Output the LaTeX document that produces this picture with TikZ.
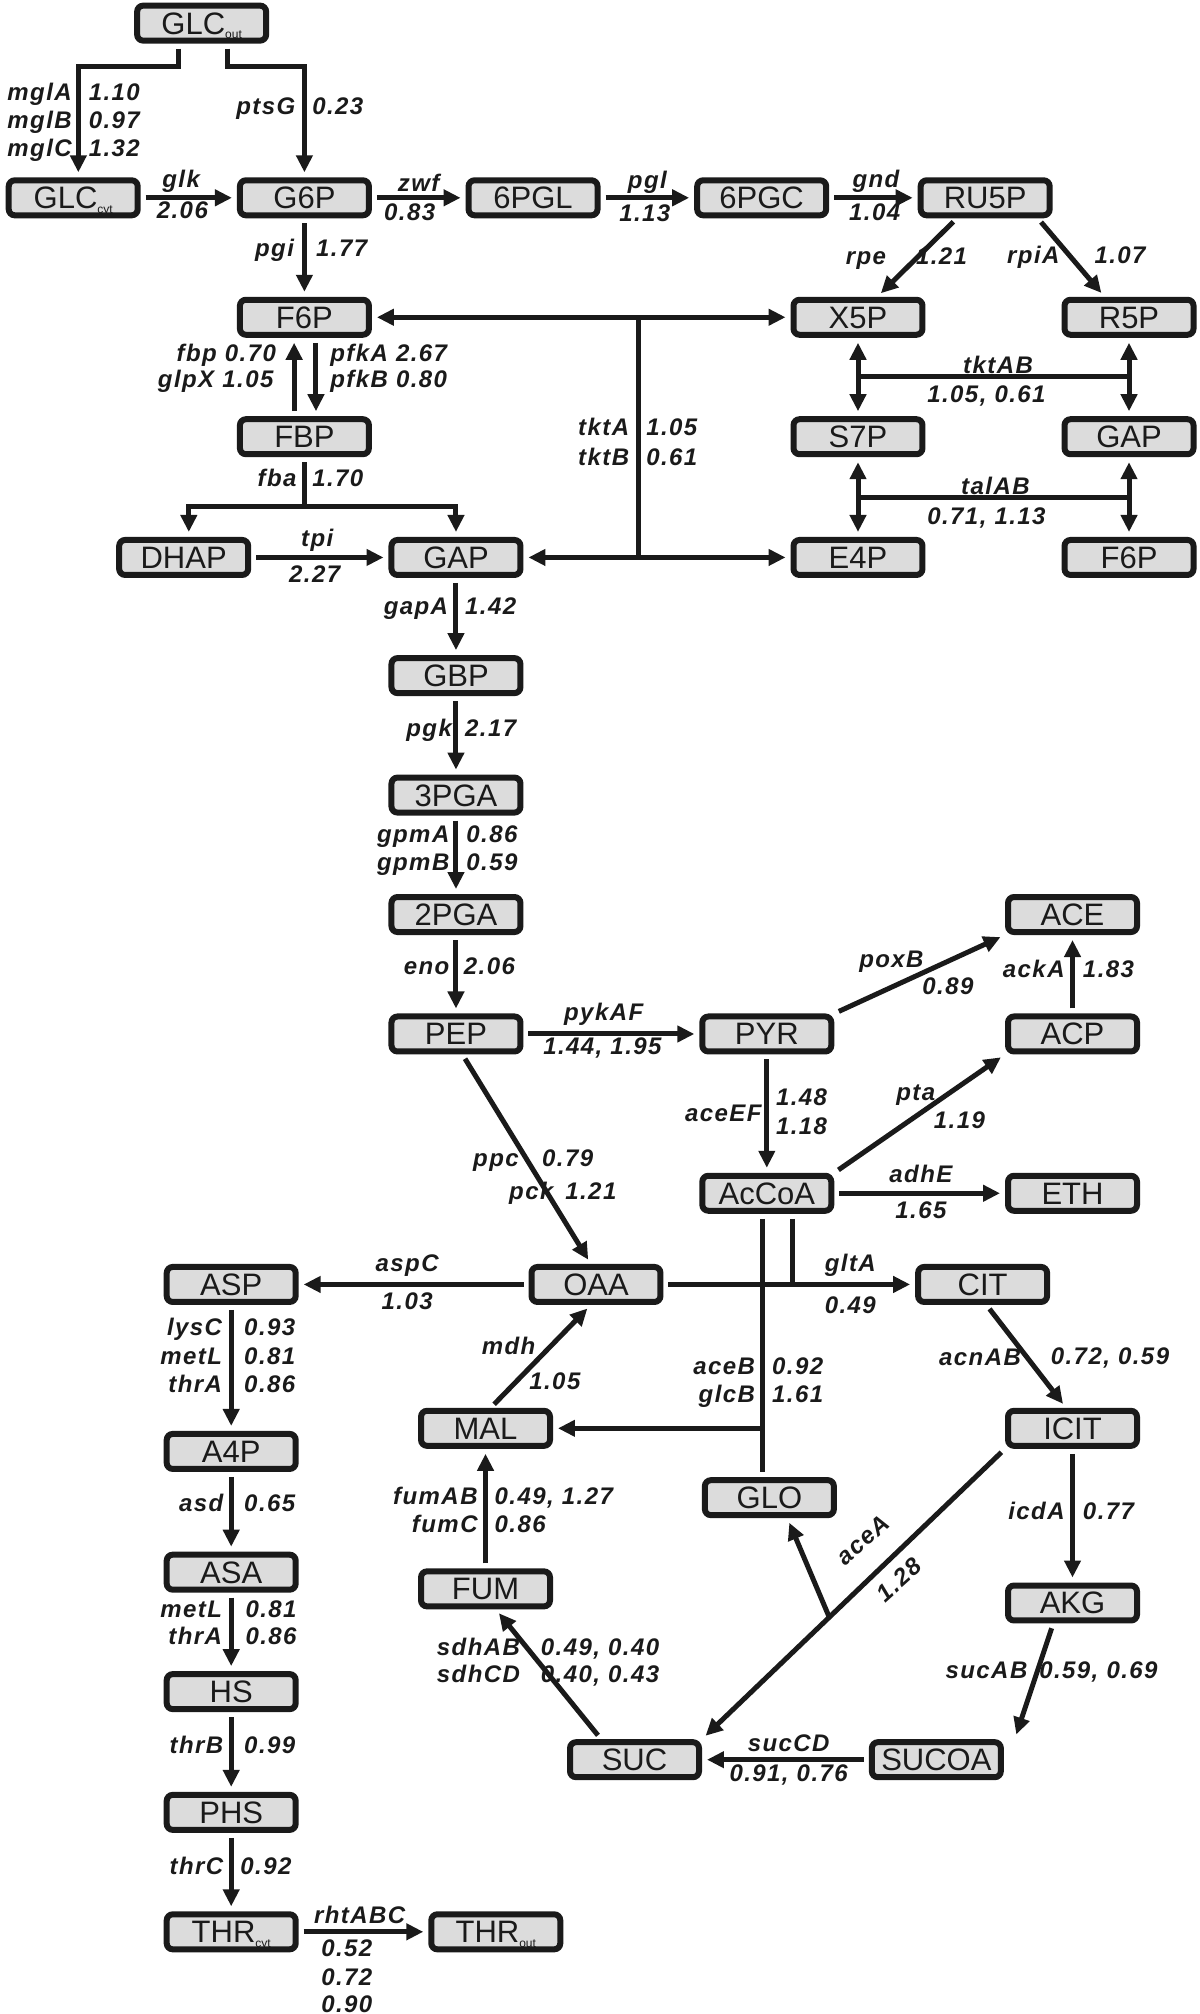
\documentclass[tikz,border=0pt]{standalone}
\usepackage{fontspec}
\setmainfont{Liberation Sans}
\newfontfamily\lblfont[LetterSpace=6.0]{Liberation Sans}
\usetikzlibrary{arrows.meta,calc}
\definecolor{boxgray}{HTML}{DCDCDC}
\definecolor{ink}{HTML}{1A1A1A}
\newcommand\sbx[1]{\raisebox{-4.5pt}{\fontsize{12}{12}\selectfont #1}}
\begin{document}
\begin{tikzpicture}[x=1.2848pt, y=-1.2848pt,
  box/.style={draw=ink, line width=6pt, fill=boxgray, rounded corners=6pt,
    minimum width=129pt, minimum height=35pt, inner sep=0pt,
    text height=22pt, text depth=0pt,
    font=\fontsize{31}{31}\selectfont, text=ink},
  lb/.style={font={\lblfont\bfseries\itshape\fontsize{24}{26}\selectfont}, text=ink, inner sep=0pt},
  tip/.tip={Triangle[length=17pt,width=16pt]},
  arr/.style={draw=ink, line width=5pt, -tip, shorten >=5pt, shorten <=5pt},
  darr/.style={draw=ink, line width=5pt, tip-tip, shorten >=5pt, shorten <=5pt},
  ln/.style={draw=ink, line width=5pt}
]
\useasboundingbox (0,0) rectangle (934,1568);

% ---------- nodes ----------
\node[box] (GLCout) at (157,18) {GLC\sbx{out}};
\node[box] (GLCcyt) at (57,154) {GLC\sbx{cyt}};
\node[box] (G6P) at (237,154) {G6P};
\node[box] (pgl6) at (415,154) {6PGL};
\node[box] (pgc6) at (593,154) {6PGC};
\node[box] (RU5P) at (767,154) {RU5P};
\node[box] (F6P) at (237,247) {F6P};
\node[box] (X5P) at (668,247) {X5P};
\node[box] (R5P) at (879,247) {R5P};
\node[box] (FBP) at (237,340) {FBP};
\node[box] (S7P) at (668,340) {S7P};
\node[box] (GAPr) at (879,340) {GAP};
\node[box] (DHAP) at (143,434) {DHAP};
\node[box] (GAP) at (355,434) {GAP};
\node[box] (E4P) at (668,434) {E4P};
\node[box] (F6Pr) at (879,434) {F6P};
\node[box] (GBP) at (355,526) {GBP};
\node[box] (pga3) at (355,619) {3PGA};
\node[box] (pga2) at (355,712) {2PGA};
\node[box] (PEP) at (355,805) {PEP};
\node[box] (PYR) at (597,805) {PYR};
\node[box] (ACE) at (835,712) {ACE};
\node[box] (ACP) at (835,805) {ACP};
\node[box] (AcCoA) at (597,929) {AcCoA};
\node[box] (ETH) at (835,929) {ETH};
\node[box] (ASP) at (180,1000) {ASP};
\node[box] (OAA) at (464,1000) {OAA};
\node[box] (CIT) at (765,1000) {CIT};
\node[box] (MAL) at (378,1112) {MAL};
\node[box] (ICIT) at (835,1112) {ICIT};
\node[box] (A4P) at (180,1130) {A4P};
\node[box] (GLO) at (599,1166) {GLO};
\node[box] (ASA) at (180,1224) {ASA};
\node[box] (FUM) at (378,1237) {FUM};
\node[box] (AKG) at (835,1248) {AKG};
\node[box] (HS) at (180,1317) {HS};
\node[box] (SUC) at (494,1370) {SUC};
\node[box] (SUCOA) at (729,1370) {SUCOA};
\node[box] (PHS) at (180,1411) {PHS};
\node[box] (THRc) at (180,1504) {THR\sbx{cyt}};
\node[box] (THRo) at (386,1504) {THR\sbx{out}};

% ---------- connectors ----------
\draw[arr] ($(GLCout.south)+(-18,0)$) -- ($(GLCout.south)+(-18,18)$) -| ($(GLCcyt.north)+(4,0)$);
\draw[arr] ($(GLCout.south)+(20,0)$) -- ($(GLCout.south)+(20,18)$) -| (G6P.north);
\draw[arr] (GLCcyt) -- (G6P);
\draw[arr] (G6P) -- (pgl6);
\draw[arr] (pgl6) -- (pgc6);
\draw[arr] (pgc6) -- (RU5P);
\draw[arr] ($(RU5P.south)+(-22,0)$) -- ($(X5P.north)+(15,0)$);
\draw[arr] ($(RU5P.south)+(41,0)$) -- ($(R5P.north)+(-19,0)$);
\draw[arr] (G6P) -- (F6P);

% tktA/tktB
\coordinate (tkx) at (497,247);
\draw[darr] (F6P) -- (X5P);
\draw[darr] (GAP) -- (E4P);
\draw[ln] (tkx) -- (tkx |- GAP);

% tktAB / talAB
\draw[darr] (X5P) -- (S7P);
\draw[darr] (R5P) -- (GAPr);
\draw[ln] ($(X5P.south)!0.5!(S7P.north)$) -- ($(R5P.south)!0.5!(GAPr.north)$);
\draw[darr] (S7P) -- (E4P);
\draw[darr] (GAPr) -- (F6Pr);
\draw[ln] ($(S7P.south)!0.5!(E4P.north)$) -- ($(GAPr.south)!0.5!(F6Pr.north)$);

% F6P <-> FBP
\draw[arr] ($(FBP.north)+(-8,0)$) -- ($(F6P.south)+(-8,0)$);
\draw[arr] ($(F6P.south)+(9,0)$) -- ($(FBP.north)+(9,0)$);

% fba
\coordinate (fbaj) at ($(FBP.south)+(0,38)$);
\draw[ln, shorten <=5pt] (FBP.south) -- (fbaj);
\draw[arr, shorten <=0pt] (fbaj) -| ($(DHAP.north)+(4,0)$);
\draw[arr, shorten <=0pt] (fbaj) -| (GAP.north);
\draw[arr] (DHAP) -- (GAP);

% glycolysis
\draw[arr] (GAP) -- (GBP);
\draw[arr] (GBP) -- (pga3);
\draw[arr] (pga3) -- (pga2);
\draw[arr] (pga2) -- (PEP);
\draw[arr] (PEP) -- (PYR);
\draw[arr] ($(PEP.south)+(5,0)$) -- ($(OAA.north)+(-4,0)$);
\draw[arr] (PYR) -- (AcCoA);
\draw[arr] (PYR.north east) -- (ACE.south west);
\draw[arr] (ACP) -- (ACE);
\draw[arr] (AcCoA.north east) -- (ACP.south west);
\draw[arr] (AcCoA) -- (ETH);

% OAA branch
\draw[arr] (OAA) -- (ASP);
\draw[arr] (OAA) -- (CIT);
\coordinate (glyc) at ($(AcCoA.south)+(-3,0)$);
\coordinate (glyx) at ($(GLO.north)+(-5,0)$);
\coordinate (acb) at ($(AcCoA.south)+(20,0)$);
\draw[ln, shorten <=5pt, shorten >=5pt] (glyc) -- (glyx);
\draw[ln, shorten <=5pt] (acb) -- (acb |- OAA);
\draw[arr, shorten <=0pt] (glyc |- MAL) -- (MAL);
\draw[arr] ($(MAL.north)+(4,0)$) -- ($(OAA.south)+(-4,0)$);

% aspartate / threonine
\draw[arr] (ASP) -- (A4P);
\draw[arr] (A4P) -- (ASA);
\draw[arr] (ASA) -- (HS);
\draw[arr] (HS) -- (PHS);
\draw[arr] (PHS) -- (THRc);
\draw[arr] (THRc) -- (THRo);

% TCA
\draw[arr] ($(CIT.south)+(3,0)$) -- ($(ICIT.north)+(-5,0)$);
\draw[arr] (ICIT) -- (AKG);
\draw[arr] ($(AKG.south)+(-15,0)$) -- ($(SUCOA.north)+(61,0)$);
\draw[arr] (SUCOA) -- (SUC);
\draw[arr] (ICIT.south west) -- (SUC.north east);
\coordinate (acej) at ($(ICIT.south west)!0.58!(SUC.north east)$);
\draw[arr, shorten <=0pt] (acej) -- ($(GLO.south)+(14,0)$);
\draw[arr] ($(SUC.north)+(-26,0)$) -- ($(FUM.south)+(8,0)$);
\draw[arr] (FUM) -- (MAL);

% ---------- labels ----------
\node[lb, anchor=mid east] (l1) at (56,76) {mglA};
\node[lb, anchor=mid east] (l2) at (56,98) {mglB};
\node[lb, anchor=mid east] (l3) at (56,120) {mglC};
\node[lb, anchor=mid west] (l4) at (69,76) {1.10};
\node[lb, anchor=mid west] (l5) at (69,98) {0.97};
\node[lb, anchor=mid west] (l6) at (69,120) {1.32};
\node[lb, anchor=mid east] (l7) at (230,87) {ptsG};
\node[lb, anchor=mid west] (l8) at (243,87) {0.23};
\node[lb] (l9) at (141,141) {glk};
\node[lb] (l10) at (142,164) {2.06};
\node[lb] (l11) at (326,142) {zwf};
\node[lb] (l12) at (319,165) {0.83};
\node[lb] (l13) at (504,142) {pgl};
\node[lb] (l14) at (502,166) {1.13};
\node[lb] (l15) at (682,141) {gnd};
\node[lb] (l16) at (681,165) {1.04};
\node[lb, anchor=mid east] (l17) at (690,204) {rpe};
\node[lb, anchor=mid west] (l18) at (713,204) {1.21};
\node[lb, anchor=mid east] (l19) at (825,203) {rpiA};
\node[lb, anchor=mid west] (l20) at (852,203) {1.07};
\node[lb, anchor=mid east] (l21) at (229,198) {pgi};
\node[lb, anchor=mid west] (l22) at (246,198) {1.77};
\node[lb, anchor=mid east] (l23) at (215,279) {fbp 0.70};
\node[lb, anchor=mid east] (l24) at (213,300) {glpX 1.05};
\node[lb, anchor=mid west] (l25) at (257,279) {pfkA 2.67};
\node[lb, anchor=mid west] (l26) at (257,300) {pfkB 0.80};
\node[lb, anchor=mid east] (l27) at (231,377) {fba};
\node[lb, anchor=mid west] (l28) at (243,377) {1.70};
\node[lb] (l29) at (247,421) {tpi};
\node[lb] (l30) at (245,447) {2.27};
\node[lb, anchor=mid east] (l31) at (490,337) {tktA};
\node[lb, anchor=mid east] (l32) at (490,360) {tktB};
\node[lb, anchor=mid west] (l33) at (503,337) {1.05};
\node[lb, anchor=mid west] (l34) at (503,360) {0.61};
\node[lb] (l35) at (777,284) {tktAB};
\node[lb] (l36) at (768,308) {1.05, 0.61};
\node[lb] (l37) at (775,378) {talAB};
\node[lb] (l38) at (768,403) {0.71, 1.13};
\node[lb, anchor=mid east] (l39) at (349,476) {gapA};
\node[lb, anchor=mid west] (l40) at (362,476) {1.42};
\node[lb, anchor=mid east] (l41) at (352,571) {pgk};
\node[lb, anchor=mid west] (l42) at (362,571) {2.17};
\node[lb, anchor=mid east] (l43) at (350,654) {gpmA};
\node[lb, anchor=mid east] (l44) at (350,676) {gpmB};
\node[lb, anchor=mid west] (l45) at (363,654) {0.86};
\node[lb, anchor=mid west] (l46) at (363,676) {0.59};
\node[lb, anchor=mid east] (l47) at (350,757) {eno};
\node[lb, anchor=mid west] (l48) at (361,757) {2.06};
\node[lb] (l49) at (470,790) {pykAF};
\node[lb] (l50) at (469,816) {1.44, 1.95};
\node[lb, anchor=mid east] (l51) at (404,906) {ppc};
\node[lb, anchor=mid west] (l52) at (422,906) {0.79};
\node[lb, anchor=mid east] (l53) at (431,932) {pck};
\node[lb, anchor=mid west] (l54) at (440,932) {1.21};
\node[lb, anchor=mid east] (l55) at (593,871) {aceEF};
\node[lb, anchor=mid west] (l56) at (604,859) {1.48};
\node[lb, anchor=mid west] (l57) at (604,881) {1.18};
\node[lb] (l58) at (694,749) {poxB};
\node[lb] (l59) at (738,768) {0.89};
\node[lb, anchor=mid east] (l60) at (829,759) {ackA};
\node[lb, anchor=mid west] (l61) at (843,759) {1.83};
\node[lb] (l62) at (713,853) {pta};
\node[lb] (l63) at (747,872) {1.19};
\node[lb] (l64) at (717,914) {adhE};
\node[lb] (l65) at (717,942) {1.65};
\node[lb] (l66) at (317,985) {aspC};
\node[lb] (l67) at (317,1013) {1.03};
\node[lb] (l68) at (662,985) {gltA};
\node[lb] (l69) at (662,1016) {0.49};
\node[lb] (l70) at (396,1048) {mdh};
\node[lb] (l71) at (432,1075) {1.05};
\node[lb, anchor=mid east] (l72) at (173,1038) {lysC};
\node[lb, anchor=mid east] (l73) at (173,1060) {metL};
\node[lb, anchor=mid east] (l74) at (173,1082) {thrA};
\node[lb, anchor=mid west] (l75) at (190,1038) {0.93};
\node[lb, anchor=mid west] (l76) at (190,1060) {0.81};
\node[lb, anchor=mid west] (l77) at (190,1082) {0.86};
\node[lb, anchor=mid east] (l78) at (588,1068) {aceB};
\node[lb, anchor=mid east] (l79) at (588,1090) {glcB};
\node[lb, anchor=mid west] (l80) at (601,1068) {0.92};
\node[lb, anchor=mid west] (l81) at (601,1090) {1.61};
\node[lb, anchor=mid east] (l82) at (795,1061) {acnAB};
\node[lb, anchor=mid west] (l83) at (818,1060) {0.72, 0.59};
\node[lb, anchor=mid east] (l84) at (372,1169) {fumAB};
\node[lb, anchor=mid east] (l85) at (372,1191) {fumC};
\node[lb, anchor=mid west] (l86) at (385,1169) {0.49, 1.27};
\node[lb, anchor=mid west] (l87) at (385,1191) {0.86};
\node[lb, anchor=mid east] (l88) at (174,1175) {asd};
\node[lb, anchor=mid west] (l89) at (190,1175) {0.65};
\node[lb, anchor=mid east] (l90) at (829,1181) {icdA};
\node[lb, anchor=mid west] (l91) at (843,1181) {0.77};
\node[lb, rotate=42] (l92) at (672,1199) {aceA};
\node[lb, rotate=42] (l93) at (700,1230) {1.28};
\node[lb, anchor=mid east] (l94) at (173,1257) {metL};
\node[lb, anchor=mid east] (l95) at (173,1278) {thrA};
\node[lb, anchor=mid west] (l96) at (191,1257) {0.81};
\node[lb, anchor=mid west] (l97) at (191,1278) {0.86};
\node[lb, anchor=mid east] (l98) at (405,1287) {sdhAB};
\node[lb, anchor=mid east] (l99) at (405,1308) {sdhCD};
\node[lb, anchor=mid west] (l100) at (421,1287) {0.49, 0.40};
\node[lb, anchor=mid west] (l101) at (421,1308) {0.40, 0.43};
\node[lb, anchor=mid east] (l102) at (800,1305) {sucAB};
\node[lb, anchor=mid west] (l103) at (809,1305) {0.59, 0.69};
\node[lb] (l104) at (614,1357) {sucCD};
\node[lb] (l105) at (614,1382) {0.91, 0.76};
\node[lb, anchor=mid east] (l106) at (174,1363) {thrB};
\node[lb, anchor=mid west] (l107) at (190,1363) {0.99};
\node[lb, anchor=mid east] (l108) at (174,1457) {thrC};
\node[lb, anchor=mid west] (l109) at (187,1457) {0.92};
\node[lb] (l110) at (280,1491) {rhtABC};
\node[lb] (l111) at (270,1517) {0.52};
\node[lb] (l112) at (270,1539) {0.72};
\node[lb] (l113) at (270,1560) {0.90};
\end{tikzpicture}
\end{document}
